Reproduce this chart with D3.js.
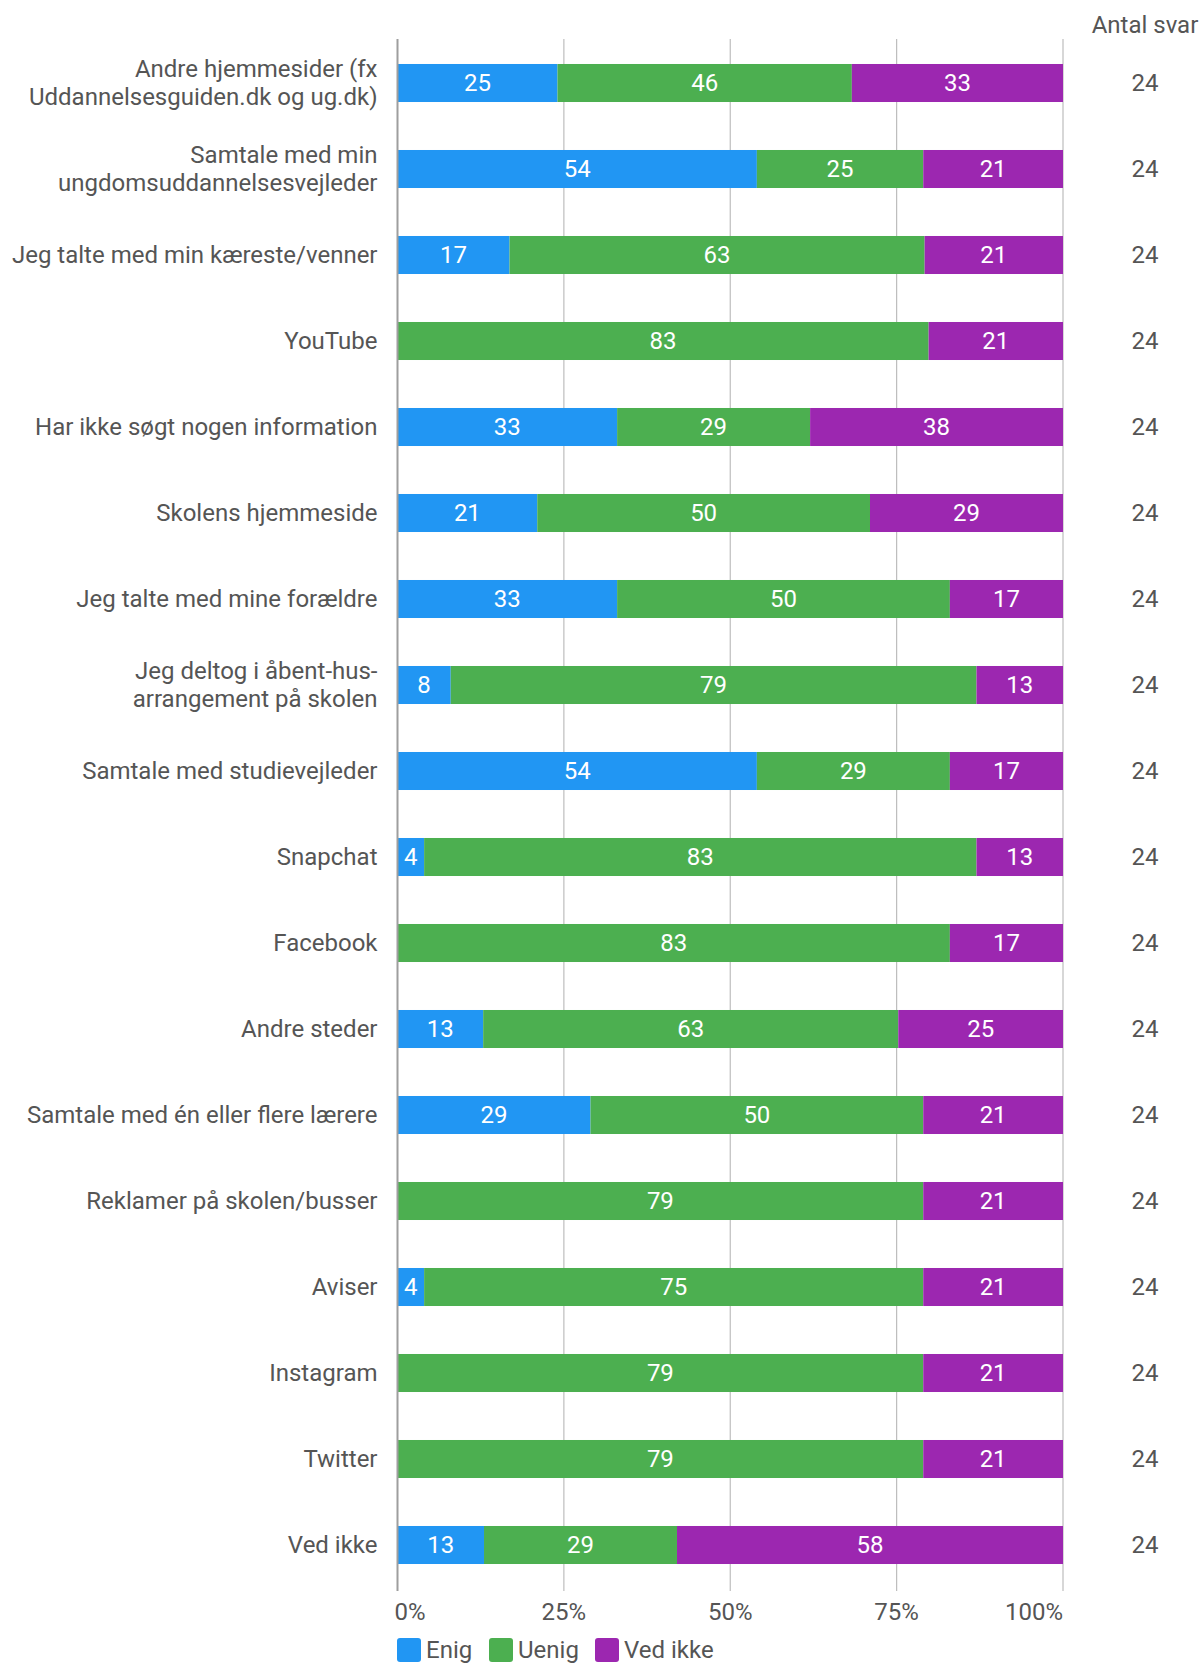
<!DOCTYPE html>
<html><head><meta charset="utf-8">
<script src="https://cdn.jsdelivr.net/npm/d3@7"></script>
<style>body{margin:0;background:#fff;}svg{display:block;font-family:Roboto,sans-serif;}</style>
</head><body>
<svg id="c" width="1200" height="1666"></svg>
<script>
const categories = [
  "Andre hjemmesider (fx\nUddannelsesguiden.dk og ug.dk)",
  "Samtale med min\nungdomsuddannelsesvejleder",
  "Jeg talte med min kæreste/venner",
  "YouTube",
  "Har ikke søgt nogen information",
  "Skolens hjemmeside",
  "Jeg talte med mine forældre",
  "Jeg deltog i åbent-hus-\narrangement på skolen",
  "Samtale med studievejleder",
  "Snapchat",
  "Facebook",
  "Andre steder",
  "Samtale med én eller flere lærere",
  "Reklamer på skolen/busser",
  "Aviser",
  "Instagram",
  "Twitter",
  "Ved ikke"
];
const enig   = [25,54,17,0,33,21,33,8,54,4,0,13,29,0,4,0,0,13];
const uenig  = [46,25,63,83,29,50,50,79,29,83,83,63,50,79,75,79,79,29];
const vedIkke= [33,21,21,21,38,29,17,13,17,13,17,25,21,21,21,21,21,58];
const antalSvar = [24,24,24,24,24,24,24,24,24,24,24,24,24,24,24,24,24,24];
const seriesNames = ["Enig","Uenig","Ved ikke"];
const colors = ["#2196F3","#4CAF50","#9C27B0"];
const tickValues = [0,0.25,0.5,0.75,1];
const tickLabels = ["0%","25%","50%","75%","100%"];
const countHeader = "Antal svar";

const svg = d3.select("#c");
const FS = 24;
const textColor = "#555";
const x0 = 397.5, x1 = 1063;
const x = d3.scaleLinear().domain([0,1]).range([x0,x1]);
const y = d3.scaleBand().domain(categories).range([40,1588]).paddingInner(0.558).paddingOuter(0.279);

const rows = categories.map((c,i)=>({cat:c, Enig:enig[i], Uenig:uenig[i], "Ved ikke":vedIkke[i], n:antalSvar[i]}));
const stack = d3.stack().keys(seriesNames).offset(d3.stackOffsetExpand);
const stacked = stack(rows);

// gridlines
const gridTop = 39, gridBottom = 1591;
svg.append("g").selectAll("line").data(tickValues.slice(1)).join("line")
  .attr("x1",d=>x(d)).attr("x2",d=>x(d)).attr("y1",gridTop).attr("y2",gridBottom)
  .attr("stroke","#bdbdbd").attr("stroke-width",1.2);

// bars
const color = d3.scaleOrdinal().domain(seriesNames).range(colors);
const gS = svg.append("g").selectAll("g").data(stacked).join("g").attr("fill",d=>color(d.key));
gS.selectAll("rect").data(d=>d).join("rect")
  .attr("x",d=>x(d[0])).attr("width",d=>x(d[1])-x(d[0]))
  .attr("y",d=>y(d.data.cat)).attr("height",y.bandwidth());

// value labels
svg.append("g").selectAll("g").data(stacked).join("g")
  .selectAll("text").data(d=>d.map(v=>({v, key:d.key}))).join("text")
  .filter(d=>d.v.data[d.key]>0)
  .attr("x",d=>(x(d.v[0])+x(d.v[1]))/2)
  .attr("y",d=>y(d.v.data.cat)+y.bandwidth()/2)
  .attr("dy","0.33em").attr("text-anchor","middle")
  .attr("fill","#fff").attr("font-size",FS)
  .text(d=>d.v.data[d.key]);

// zero axis
svg.append("line").attr("x1",x(0)).attr("x2",x(0)).attr("y1",gridTop).attr("y2",gridBottom)
  .attr("stroke","#9e9e9e").attr("stroke-width",2);

// category labels
const lineH = 28.5;
svg.append("g").selectAll("text").data(categories).join("text")
  .attr("text-anchor","end").attr("fill",textColor).attr("font-size",FS)
  .each(function(d){
    const lines = d.split("\n");
    const cy = y(d)+y.bandwidth()/2;
    const t = d3.select(this);
    lines.forEach((l,i)=>{
      t.append("tspan").attr("x",x0-20)
        .attr("y",cy + (i-(lines.length-1)/2)*lineH).attr("dy","0.33em").text(l);
    });
  });

// x axis tick labels
svg.append("g").selectAll("text").data(tickValues).join("text")
  .attr("x",(d,i)=>x(d) + (i===0?-3:0)).attr("y",1612).attr("dy","0.33em")
  .attr("text-anchor",(d,i)=> i===0?"start":(i===tickValues.length-1?"end":"middle"))
  .attr("fill",textColor).attr("font-size",FS)
  .text((d,i)=>tickLabels[i]);

// count column
const cx = 1145;
svg.append("text").attr("x",cx).attr("y",25.5).attr("dy","0.33em").attr("text-anchor","middle")
  .attr("fill",textColor).attr("font-size",FS).text(countHeader);
svg.append("g").selectAll("text").data(rows).join("text")
  .attr("x",cx).attr("y",d=>y(d.cat)+y.bandwidth()/2).attr("dy","0.33em").attr("text-anchor","middle")
  .attr("fill",textColor).attr("font-size",FS).text(d=>d.n);

// legend
const legendX = [397, 489, 595];
const lg = svg.append("g").selectAll("g").data(seriesNames).join("g")
  .attr("transform",(d,i)=>`translate(${legendX[i]},1638)`);
lg.append("rect").attr("width",24).attr("height",24).attr("rx",3).attr("fill",d=>color(d));
lg.append("text").attr("x",29).attr("y",12).attr("dy","0.33em").attr("fill",textColor).attr("font-size",FS).text(d=>d);
</script>
</body></html>
